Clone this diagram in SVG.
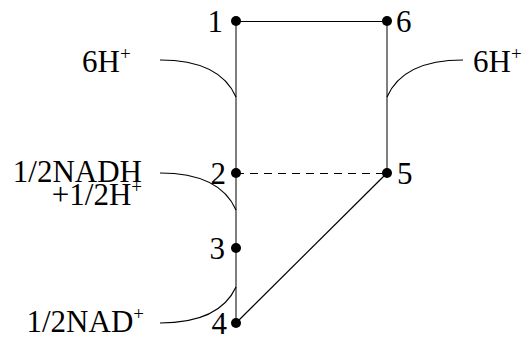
<svg xmlns="http://www.w3.org/2000/svg" width="525" height="341" viewBox="0 0 525 341">
<style>
.t{font-family:"Liberation Serif","Times New Roman",serif;font-size:31px;fill:#000}
.s{font-size:19px}
.c{fill:none;stroke:#000;stroke-width:1.2}
.e{fill:none;stroke:#555;stroke-width:1.5}
.d{fill:#000}
</style>
<rect width="525" height="341" fill="#fff"/>
<g id="connectors">
<line class="e" x1="236" y1="21" x2="236" y2="323"/>
<line class="e" x1="387" y1="21" x2="387" y2="173"/>
<line class="c" x1="236" y1="21.5" x2="387" y2="21.5"/>
<line class="c" x1="236" y1="173.5" x2="387" y2="173.5" stroke-dasharray="8,6"/>
<line class="c" x1="236" y1="323" x2="387" y2="173"/>
<path class="c" d="M160,60 C200,60 225,72 236,97"/>
<path class="c" d="M463,60 C423,60 398,72 387,97"/>
<path class="c" d="M160,173 C200,173 225,185 236,210"/>
<path class="c" d="M160,323 C200,323 225,311 236,287"/>
</g>
<g id="n1"><circle class="d" cx="236" cy="21" r="5"/><text class="t" x="223" y="32" text-anchor="end">1</text></g>
<g id="n6"><circle class="d" cx="387" cy="21" r="5"/><text class="t" x="396" y="32">6</text></g>
<g id="n2"><circle class="d" cx="236" cy="173" r="5"/><text class="t" x="226" y="184" text-anchor="end">2</text></g>
<g id="n5"><circle class="d" cx="387" cy="173" r="5"/><text class="t" x="397" y="184">5</text></g>
<g id="n3"><circle class="d" cx="236" cy="248" r="5"/><text class="t" x="225" y="259" text-anchor="end">3</text></g>
<g id="n4"><circle class="d" cx="236" cy="323" r="5"/><text class="t" x="227" y="334" text-anchor="end">4</text></g>
<g id="l6hl"><text class="t" x="82" y="72">6H<tspan class="s" dy="-12">+</tspan></text></g>
<g id="l6hr"><text class="t" x="473" y="72">6H<tspan class="s" dy="-12">+</tspan></text></g>
<g id="lnadh"><text class="t" x="142" y="182" text-anchor="end">1/2NADH</text><text class="t" x="142" y="205" text-anchor="end">+1/2H<tspan class="s" dy="-12">+</tspan></text></g>
<g id="lnad"><text class="t" x="144" y="332" text-anchor="end">1/2NAD<tspan class="s" dy="-12">+</tspan></text></g>
</svg>
